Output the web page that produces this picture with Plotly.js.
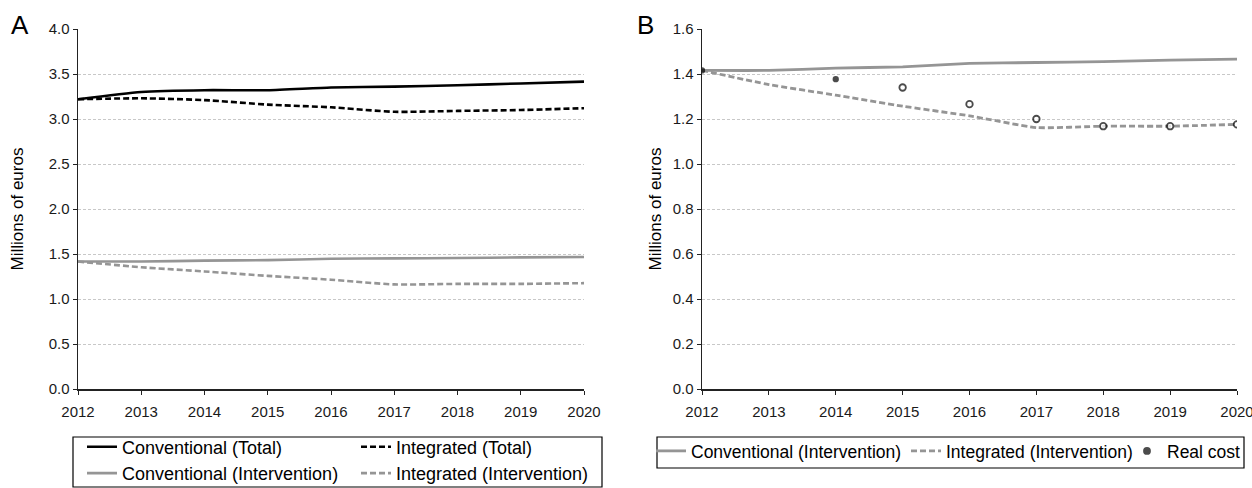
<!DOCTYPE html>
<html>
<head>
<meta charset="utf-8">
<script src="https://cdn.plot.ly/plotly-3.0.1.min.js"></script>
<style>html,body{margin:0;padding:0;background:#fff;}#chart{width:1252px;height:488px;}</style>
</head>
<body>
<div id="chart"></div>
<script>
// ---- data ----
var years = [2012, 2013, 2014, 2015, 2016, 2017, 2018, 2019, 2020];
var conventionalTotal = [3.22, 3.30, 3.32, 3.32, 3.35, 3.36, 3.375, 3.395, 3.415];
var integratedTotal = [3.22, 3.23, 3.21, 3.16, 3.13, 3.08, 3.09, 3.10, 3.12];
var conventionalIntervention = [1.416, 1.416, 1.426, 1.432, 1.447, 1.451, 1.455, 1.462, 1.466];
var integratedIntervention = [1.416, 1.353, 1.306, 1.257, 1.214, 1.162, 1.168, 1.168, 1.176];
var realCostYears = [2012, 2014, 2015, 2016, 2017, 2018, 2019, 2020];
var realCost = [1.416, 1.377, 1.340, 1.266, 1.200, 1.168, 1.168, 1.176];
var realCostObservedUntil = 2014; // filled dots up to this year, open circles after
var yTicksA = [0, 0.5, 1.0, 1.5, 2.0, 2.5, 3.0, 3.5, 4.0];
var yTicksB = [0, 0.2, 0.4, 0.6, 0.8, 1.0, 1.2, 1.4, 1.6];

// ---- geometry helpers (pixel -> paper) ----
var W = 1252, H = 488, mt = 29, mb = 99;
var plotH = H - mt - mb;
function px(x) { return x / W; }
function py(y) { return (H - mb - y) / plotH; }

var black = '#000000', gray = '#959595';
var lw = 2.6;

var traces = [
  {x: years, y: conventionalTotal, name: 'Conventional (Total)', mode: 'lines', xaxis: 'x', yaxis: 'y',
   line: {color: black, width: lw, shape: 'spline', smoothing: 0.6}, legend: 'legend'},
  {x: years, y: conventionalIntervention, name: 'Conventional (Intervention)', mode: 'lines', xaxis: 'x', yaxis: 'y',
   line: {color: gray, width: lw, shape: 'spline', smoothing: 0.6}, legend: 'legend'},
  {x: years, y: integratedTotal, name: 'Integrated (Total)', mode: 'lines', xaxis: 'x', yaxis: 'y',
   line: {color: black, width: lw, dash: '6px,3px', shape: 'spline', smoothing: 0.6}, legend: 'legend2'},
  {x: years, y: integratedIntervention, name: 'Integrated (Intervention)', mode: 'lines', xaxis: 'x', yaxis: 'y',
   line: {color: gray, width: lw, dash: '6px,3px', shape: 'spline', smoothing: 0.6}, legend: 'legend2'},

  {x: years, y: conventionalIntervention, name: 'Conventional (Intervention)', mode: 'lines', xaxis: 'x2', yaxis: 'y2',
   line: {color: gray, width: 2.8, shape: 'spline', smoothing: 0.5}, legend: 'legend3'},
  {x: years, y: integratedIntervention, name: 'Integrated (Intervention)', mode: 'lines', xaxis: 'x2', yaxis: 'y2',
   line: {color: gray, width: 2.8, dash: '6px,3px', shape: 'spline', smoothing: 0.5}, legend: 'legend4'},
  {x: realCostYears, y: realCost, name: 'Real cost', mode: 'markers', xaxis: 'x2', yaxis: 'y2',
   marker: {
     symbol: 'circle',
     size: realCostYears.map(function (yr) { return yr <= realCostObservedUntil ? 4.5 : 6.5; }),
     color: realCostYears.map(function (yr) { return yr <= realCostObservedUntil ? black : '#ffffff'; }),
     line: {color: black, width: 1.8}
   }, legend: 'legend5'}
];

var FAM = 'Liberation Sans, Arial, sans-serif';
var tickFont = {family: FAM, size: 15, color: '#1a1a1a'};
var titleFont = {family: FAM, size: 17, color: '#000'};
var legFont = {family: FAM, size: 18, color: '#000'};
var legFontB = {family: FAM, size: 17.5, color: '#000'};

function xAxis(domain, anchor) {
  return {
    domain: domain, anchor: anchor, range: [2012, 2020], tickmode: 'array', tickvals: years,
    ticktext: years.map(String), showgrid: false, zeroline: false, showline: true,
    linecolor: '#222', linewidth: 1.5, ticks: 'outside', ticklen: 4, tickcolor: '#222', tickwidth: 1,
    tickfont: tickFont, ticklabelstandoff: 4, ticklabeloverflow: 'allow', fixedrange: true
  };
}
function yAxis(range, tickvals, anchor, standoff) {
  return {
    range: range, anchor: anchor, tickmode: 'array', tickvals: tickvals,
    ticktext: tickvals.map(function (v) { return v.toFixed(1); }),
    showgrid: true, gridcolor: '#c8c8c8', gridwidth: 1, griddash: '3px,2px',
    zeroline: false, showline: true, linecolor: '#222', linewidth: 1.5,
    ticks: 'outside', ticklen: 4, tickcolor: '#222', tickwidth: 1, tickfont: tickFont,
    title: {text: 'Millions of euros', font: titleFont, standoff: standoff}, fixedrange: true
  };
}
function leg(xpx, ypx, orient, font) {
  return {x: px(xpx), y: py(ypx), xanchor: 'left', yanchor: 'top',
          orientation: orient, font: font, bgcolor: 'rgba(0,0,0,0)', borderwidth: 0, traceorder: 'normal'};
}

var layout = {
  width: W, height: H,
  margin: {l: 0, r: 0, t: mt, b: mb, pad: 0, autoexpand: false},
  paper_bgcolor: '#fff', plot_bgcolor: '#fff',
  font: {family: FAM, color: '#000'},
  xaxis: xAxis([px(78), px(584)], 'y'),
  yaxis: yAxis([0, 4], yTicksA, 'x', 20),
  xaxis2: xAxis([px(702), px(1237)], 'y2'),
  yaxis2: yAxis([0, 1.6], yTicksB, 'x2', 6),
  legend: leg(82, 428.5, 'v', legFont),
  legend2: leg(356, 428.5, 'v', legFont),
  legend3: leg(651, 433, 'h', legFontB),
  legend4: leg(906, 433, 'h', legFontB),
  legend5: leg(1127, 433, 'h', legFontB),
  shapes: [
    {type: 'rect', xref: 'paper', yref: 'paper', x0: px(73), x1: px(602), y0: py(487), y1: py(437),
     line: {color: '#000', width: 1.2}, fillcolor: 'rgba(0,0,0,0)'},
    {type: 'rect', xref: 'paper', yref: 'paper', x0: px(657), x1: px(1244), y0: py(468), y1: py(437),
     line: {color: '#000', width: 1.2}, fillcolor: 'rgba(0,0,0,0)'}
  ],
  annotations: [
    {text: 'A', xref: 'paper', yref: 'paper', x: px(20), y: py(25), xanchor: 'center', yanchor: 'middle',
     showarrow: false, font: {family: FAM, size: 26, color: '#000'}},
    {text: 'B', xref: 'paper', yref: 'paper', x: px(645), y: py(25), xanchor: 'center', yanchor: 'middle',
     showarrow: false, font: {family: FAM, size: 26, color: '#000'}}
  ],
  showlegend: true
};

Plotly.newPlot('chart', traces, layout, {displayModeBar: false, staticPlot: true});
</script>
</body>
</html>
